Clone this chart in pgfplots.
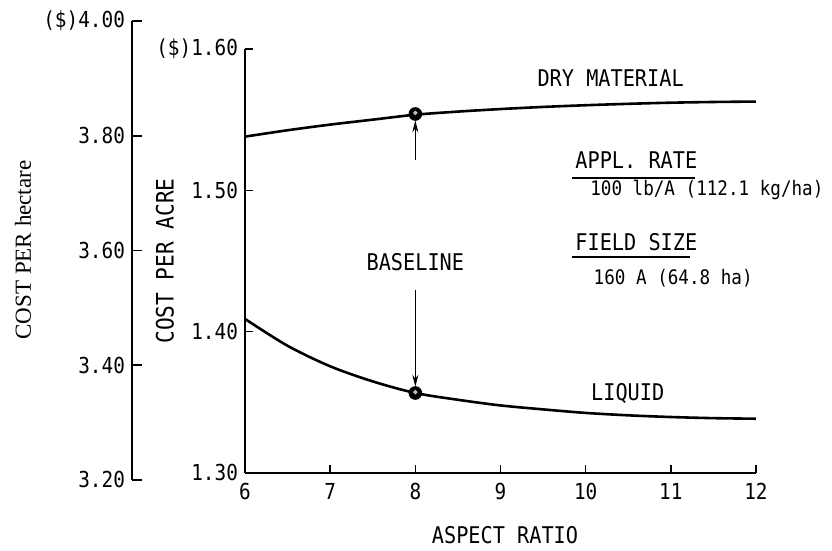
\documentclass[border=0pt]{standalone}
\usepackage{pgfplots}
\pgfplotsset{compat=1.18}
\usepackage{fontspec}
\setmainfont{DejaVu Sans Mono}[FakeStretch=0.88]
\newfontfamily\hafont{Liberation Serif}
\usetikzlibrary{arrows.meta}
\begin{document}
\begin{tikzpicture}[x=1pt,y=1pt]
\path (0,0) rectangle (416,273);
% outer (hectare) axis
\begin{axis}[at={(66pt,33pt)}, anchor=south west, scale only axis,
  width=10pt, height=229.5pt, xmin=0, xmax=1, ymin=3.2, ymax=4.0,
  axis x line=none, axis y line*=left,
  ytick={3.2,3.4,3.6,3.8,4.0},
  yticklabels={3.20,3.40,3.60,3.80,{(\$)4.00}},
  tick align=inside, major tick length=5pt,
  axis line style={line width=0.9pt},
  tick style={line width=0.9pt,black},
  yticklabel style={font=\fontsize{11}{13}\selectfont},
  /pgf/number format/assume math mode=true]
\end{axis}
\node[rotate=90,font=\hafont\fontsize{11.5}{13}\selectfont] at (11.5,148) {COST PER hectare};
\node[rotate=90,font=\fontsize{12}{14}\selectfont] at (82.5,142.5) {COST PER ACRE};
\node[font=\fontsize{11.5}{13}\selectfont] at (252.5,5.5) {ASPECT RATIO};
% main (acre) axis
\begin{axis}[at={(122.5pt,36.5pt)}, anchor=south west, scale only axis,
  width=255.5pt, height=212pt,
  xmin=6, xmax=12, ymin=1.3, ymax=1.6,
  axis lines*=left, clip=false,
  tick align=inside, major tick length=4pt,
  axis line style={line width=0.9pt},
  tick style={line width=0.8pt,black},
  xtick={6,7,8,9,10,11,12},
  xticklabels={6,7,8,9,10,11,12},
  ytick={1.3,1.4,1.5,1.6},
  yticklabels={1.30,1.40,1.50,{(\$)1.60}},
  ticklabel style={font=\fontsize{11}{13}\selectfont},
  xticklabel style={yshift=-1.5pt},
  /pgf/number format/assume math mode=true]
% dry material
\addplot[black, line width=1.3pt, smooth] coordinates {
 (6,1.538) (6.5,1.5425) (7,1.5465) (7.5,1.5500) (8,1.5535) (8.5,1.5557)
 (9,1.5575) (9.5,1.5590) (10,1.5602) (10.5,1.5612) (11,1.5620) (11.5,1.5625) (12,1.5628)};
% liquid
\addplot[black, line width=1.3pt, smooth] coordinates {
 (6,1.409) (6.5,1.390) (7,1.3755) (7.5,1.3648) (8,1.3566) (8.5,1.3518)
 (9,1.3478) (9.5,1.3450) (10,1.3425) (10.5,1.3408) (11,1.3396) (11.5,1.3388) (12,1.3384)};
% baseline markers
\addplot[only marks, mark=*, mark size=3.2pt, black] coordinates {(8,1.554) (8,1.3566)};
\addplot[only marks, mark=*, mark size=0.9pt, gray!50] coordinates {(8,1.5548) (8,1.3572)};
% arrows
\draw[line width=0.5pt, -{Stealth[length=6pt,width=3pt]}] (axis cs:8,1.4295) -- (axis cs:8,1.3610);
\draw[line width=0.5pt, -{Stealth[length=6pt,width=3pt]}] (axis cs:8,1.5215) -- (axis cs:8,1.5495);
% annotations
\node[font=\fontsize{11.5}{13}\selectfont] at (axis cs:8,1.449) {BASELINE};
\node[anchor=west,font=\fontsize{11.5}{13}\selectfont,inner sep=0pt] at (axis cs:9.43,1.5795) {DRY MATERIAL};
\node[anchor=west,font=\fontsize{11.5}{13}\selectfont,inner sep=0pt] at (axis cs:10.06,1.356) {LIQUID};
\node[anchor=west,font=\fontsize{11.5}{13}\selectfont,inner sep=0pt] at (axis cs:9.875,1.5215) {APPL. RATE};
\draw[line width=1pt] (axis cs:9.84,1.5088) -- (axis cs:11.28,1.5088);
\node[anchor=west,font=\fontsize{10}{12}\selectfont,inner sep=0pt] at (axis cs:10.05,1.5003) {100 lb/A (112.1 kg/ha)};
\node[anchor=west,font=\fontsize{11.5}{13}\selectfont,inner sep=0pt] at (axis cs:9.875,1.4635) {FIELD SIZE};
\draw[line width=1pt] (axis cs:9.84,1.4529) -- (axis cs:11.22,1.4529);
\node[anchor=west,font=\fontsize{10}{12}\selectfont,inner sep=0pt] at (axis cs:10.09,1.438) {160 A (64.8 ha)};
\end{axis}
\end{tikzpicture}
\end{document}
